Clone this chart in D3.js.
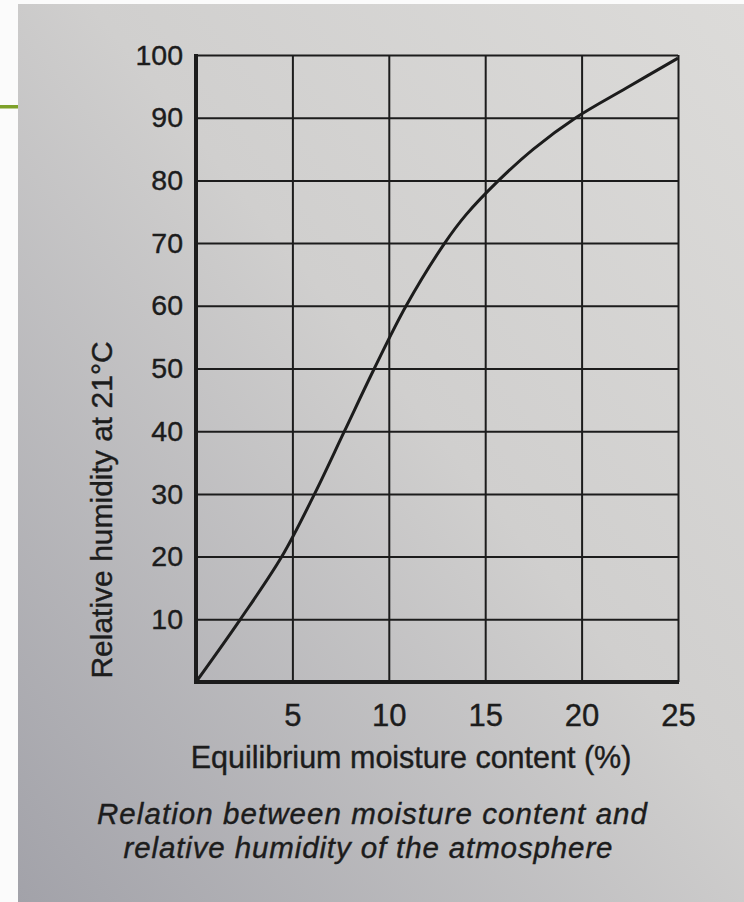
<!DOCTYPE html>
<html>
<head>
<meta charset="utf-8">
<script src="https://cdn.jsdelivr.net/npm/d3@7"></script>
<style>
  body { margin: 0; background: #fff; }
  svg { display: block; }
</style>
</head>
<body>
<div id="chart"></div>
<script>
// values
const moisture = [0, 2.3, 4.45, 6.15, 7.7, 9.25, 10.9, 12.9, 14, 15.7, 17.5, 19.7, 22.3, 25];
const humidity = [0, 10, 20, 30, 40, 50, 60, 70, 74.5, 80, 85, 90, 94.7, 99.5];
const xTicks = [5, 10, 15, 20, 25];
const yTicks = [10, 20, 30, 40, 50, 60, 70, 80, 90, 100];
const xTitle = 'Equilibrium moisture content (%)';
const yTitle = 'Relative humidity at 21°C';
const caption = ['Relation between moisture content and', 'relative humidity of the atmosphere'];

const width = 744, height = 902;
const margin = { left: 196, right: 66, top: 55, bottom: 222 };
const ink = '#1c1c1c';
const font = '"Liberation Sans", Arial, sans-serif';

const svg = d3.select('#chart').append('svg')
  .attr('width', width)
  .attr('height', height)
  .attr('font-family', font);

// paper background (photo of a page)
const defs = svg.append('defs');
const grad = defs.append('linearGradient')
  .attr('id', 'paper')
  .attr('x1', '1').attr('y1', '0')
  .attr('x2', '0').attr('y2', '1');
grad.append('stop').attr('offset', '0%').attr('stop-color', '#dcdbd9');
grad.append('stop').attr('offset', '45%').attr('stop-color', '#d0cfce');
grad.append('stop').attr('offset', '100%').attr('stop-color', '#a2a2a9');

svg.append('rect')
  .attr('width', width).attr('height', height)
  .attr('fill', '#fbfbfb');
svg.append('rect')
  .attr('x', 18).attr('y', 4)
  .attr('width', width - 18).attr('height', height - 4)
  .attr('fill', 'url(#paper)');
svg.append('rect')
  .attr('x', 0).attr('y', 105)
  .attr('width', 18).attr('height', 3.5)
  .attr('fill', '#7ea12a');

const x = d3.scaleLinear()
  .domain([0, 25])
  .range([margin.left, width - margin.right]);

const y = d3.scaleLinear()
  .domain([0, 100])
  .range([height - margin.bottom + 2, margin.top]);

const g = svg.append('g');

// grid
g.append('g')
  .attr('transform', `translate(0,${y(0)})`)
  .call(d3.axisBottom(x).tickValues(xTicks).tickSize(-(y(0) - y(100))).tickFormat(''))
  .call(a => a.select('.domain').remove())
  .call(a => a.selectAll('line').attr('stroke', ink).attr('stroke-width', 2));

g.append('g')
  .attr('transform', `translate(${x(0)},0)`)
  .call(d3.axisLeft(y).tickValues(yTicks).tickSize(-(x(25) - x(0))).tickFormat(''))
  .call(a => a.select('.domain').remove())
  .call(a => a.selectAll('line').attr('stroke', ink).attr('stroke-width', 2));

// heavy left and bottom axes
g.append('line')
  .attr('x1', x(0)).attr('x2', x(0))
  .attr('y1', y(100) - 1).attr('y2', y(0) + 2)
  .attr('stroke', ink).attr('stroke-width', 4);
g.append('line')
  .attr('x1', x(0) - 2).attr('x2', x(25) + 1)
  .attr('y1', y(0)).attr('y2', y(0))
  .attr('stroke', ink).attr('stroke-width', 4);

// tick labels
g.append('g')
  .attr('transform', `translate(${x(0)},0)`)
  .call(d3.axisLeft(y).tickValues(yTicks).tickSize(0).tickPadding(13))
  .call(a => a.select('.domain').remove())
  .call(a => a.selectAll('text')
    .attr('fill', ink)
    .attr('stroke', ink).attr('stroke-width', 0.4)
    .attr('font-size', 28.5)
    .attr('font-family', font));

g.append('g')
  .attr('transform', `translate(0,${y(0)})`)
  .call(d3.axisBottom(x).tickValues(xTicks).tickSize(0).tickPadding(22))
  .call(a => a.select('.domain').remove())
  .call(a => a.selectAll('text')
    .attr('fill', ink)
    .attr('stroke', ink).attr('stroke-width', 0.4)
    .attr('font-size', 31)
    .attr('font-family', font));

// curve
const points = moisture.map((m, i) => ({ m: m, h: humidity[i] }));
const line = d3.line()
  .x(d => x(d.m))
  .y(d => y(d.h))
  .curve(d3.curveCatmullRom.alpha(0.5));

g.append('path')
  .datum(points)
  .attr('d', line)
  .attr('fill', 'none')
  .attr('stroke', ink)
  .attr('stroke-width', 3)
  .attr('stroke-linejoin', 'round');

// titles
svg.append('text')
  .attr('x', 411)
  .attr('y', 768)
  .attr('text-anchor', 'middle')
  .attr('font-size', 30.5)
  .attr('fill', ink)
  .attr('stroke', ink).attr('stroke-width', 0.4)
  .text(xTitle);

svg.append('text')
  .attr('transform', 'rotate(-90)')
  .attr('x', -510)
  .attr('y', 112)
  .attr('text-anchor', 'middle')
  .attr('font-size', 30)
  .attr('fill', ink)
  .attr('stroke', ink).attr('stroke-width', 0.4)
  .text(yTitle);

const capWidths = [550, 489];
caption.forEach((c, i) => {
  svg.append('text')
    .attr('x', i == 0 ? 372 : 368)
    .attr('y', 824 + i * 34)
    .attr('text-anchor', 'middle')
    .attr('font-size', 29.5)
    .attr('font-style', 'italic')
    .attr('textLength', capWidths[i])
    .attr('lengthAdjust', 'spacing')
    .attr('fill', ink)
    .attr('stroke', ink).attr('stroke-width', 0.4)
    .text(c);
});
</script>
</body>
</html>
